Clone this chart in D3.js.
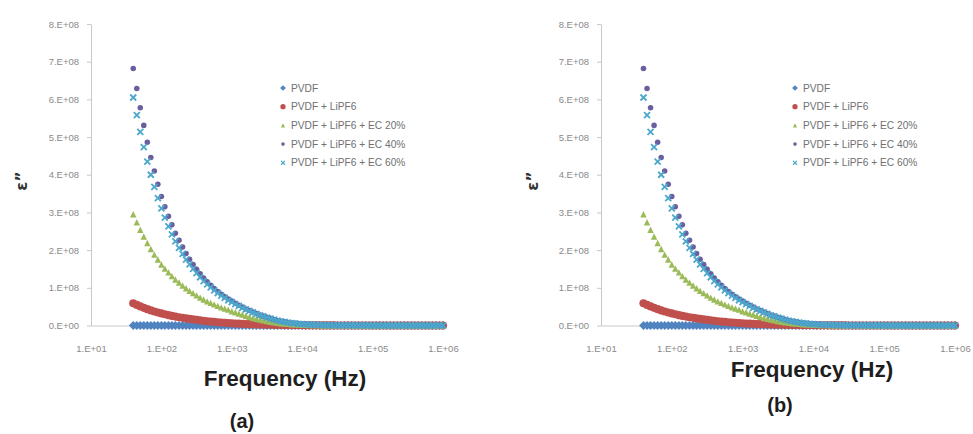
<!DOCTYPE html>
<html>
    <head>
        <script src="https://d3js.org/d3.v7.min.js"></script>
        <style>
            body { margin: 0; background: #fff; }
            .tick text { font: 9.5px "Liberation Sans", Arial, sans-serif; fill: #8a8a8a; }
            .legend text { font: 10.2px "Liberation Sans", Arial, sans-serif; fill: #707070; }
            .xtitle { font: bold 22.5px "Liberation Sans", Arial, sans-serif; fill: #1e1e1e; text-anchor: middle; }
            .panel { font: bold 20px "Liberation Sans", Arial, sans-serif; fill: #1e1e1e; text-anchor: middle; }
            .ytitle { font: bold 16px "DejaVu Sans", sans-serif; fill: #333; text-anchor: middle; }
        </style>
    </head>
    <body>
        <script>
            // frequencies (Hz), 20 points per decade from ~40 Hz to 1 MHz
            var freqs = [
                39.8, 44.7, 50.1, 56.2, 63.1, 70.8, 79.4, 89.1,
                100, 112, 126, 141, 158, 178, 200, 224, 251, 282, 316, 355, 398, 447, 501, 562, 631, 708, 794, 891,
                1000, 1122, 1259, 1413, 1585, 1778, 1995, 2239, 2512, 2818, 3162, 3548, 3981, 4467, 5012, 5623, 6310, 7079, 7943, 8913,
                1e4, 11220, 12589, 14125, 15849, 17783, 19953, 22387, 25119, 28184, 31623, 35481, 39811, 44668, 50119, 56234, 63096, 70795, 79433, 89125,
                1e5, 112202, 125893, 141254, 158489, 177828, 199526, 223872, 251189, 281838, 316228, 354813, 398107, 446684, 501187, 562341, 630957, 707946, 794328, 891251,
                1e6
            ];

            // epsilon'' values, in units of 1e8
            var pvdf = [
                0, 0, 0, 0, 0, 0, 0, 0,
                0, 0, 0, 0, 0, 0, 0, 0, 0, 0, 0, 0, 0, 0, 0, 0, 0, 0, 0, 0,
                0, 0, 0, 0, 0, 0, 0, 0, 0, 0, 0, 0, 0, 0, 0, 0, 0, 0, 0, 0,
                0, 0, 0, 0, 0, 0, 0, 0, 0, 0, 0, 0, 0, 0, 0, 0, 0, 0, 0, 0,
                0, 0, 0, 0, 0, 0, 0, 0, 0, 0, 0, 0, 0, 0, 0, 0, 0, 0, 0, 0,
                0
            ];
            var lipf6 = [
                0.59, 0.546, 0.506, 0.468, 0.433, 0.40, 0.372, 0.345,
                0.32, 0.297, 0.275, 0.255, 0.236, 0.219, 0.203, 0.188, 0.174, 0.162, 0.150, 0.137, 0.125, 0.114, 0.104, 0.095, 0.087, 0.079, 0.072, 0.066,
                0.060, 0.054, 0.049, 0.044, 0.040, 0.036, 0.032, 0.029, 0.026, 0.023, 0.021, 0.019, 0.017, 0.015, 0.013, 0.011, 0.010, 0.009, 0.008, 0.007,
                0.006, 0.005, 0.005, 0.004, 0.004, 0.003, 0.003, 0.002, 0.002, 0.002, 0.001, 0.001, 0.001, 0.001, 0, 0, 0, 0, 0, 0,
                0, 0, 0, 0, 0, 0, 0, 0, 0, 0, 0, 0, 0, 0, 0, 0, 0, 0, 0, 0,
                0
            ];
            var ec20 = [
                2.95, 2.74, 2.54, 2.36, 2.19, 2.03, 1.88, 1.75,
                1.62, 1.51, 1.41, 1.31, 1.22, 1.14, 1.06, 0.99, 0.92, 0.86, 0.80, 0.74, 0.69, 0.64, 0.60, 0.56, 0.52, 0.48, 0.45, 0.42,
                0.38, 0.35, 0.32, 0.29, 0.26, 0.23, 0.20, 0.18, 0.16, 0.14, 0.12, 0.10, 0.085, 0.072, 0.060, 0.050, 0.042, 0.035, 0.029, 0.024,
                0.020, 0.016, 0.013, 0.011, 0.009, 0.007, 0.006, 0.005, 0.004, 0.003, 0.003, 0.002, 0.002, 0.001, 0.001, 0.001, 0.001, 0, 0, 0,
                0, 0, 0, 0, 0, 0, 0, 0, 0, 0, 0, 0, 0, 0, 0, 0, 0, 0, 0, 0,
                0
            ];
            var ec40 = [
                6.82, 6.29, 5.78, 5.31, 4.86, 4.46, 4.10, 3.75,
                3.42, 3.15, 2.90, 2.67, 2.45, 2.26, 2.08, 1.91, 1.76, 1.62, 1.49, 1.37, 1.26, 1.16, 1.07, 0.98, 0.90, 0.83, 0.76, 0.70,
                0.65, 0.59, 0.54, 0.49, 0.44, 0.40, 0.36, 0.32, 0.28, 0.25, 0.22, 0.19, 0.16, 0.135, 0.115, 0.097, 0.082, 0.069, 0.058, 0.048,
                0.040, 0.033, 0.027, 0.022, 0.018, 0.015, 0.012, 0.010, 0.008, 0.006, 0.005, 0.004, 0.003, 0.003, 0.002, 0.002, 0.001, 0.001, 0.001, 0.001,
                0, 0, 0, 0, 0, 0, 0, 0, 0, 0, 0, 0, 0, 0, 0, 0, 0, 0, 0, 0,
                0
            ];
            var ec60 = [
                6.05, 5.58, 5.14, 4.73, 4.35, 4.00, 3.68, 3.38,
                3.11, 2.86, 2.63, 2.42, 2.23, 2.06, 1.90, 1.75, 1.62, 1.50, 1.39, 1.28, 1.18, 1.09, 1.01, 0.93, 0.86, 0.79, 0.73, 0.67,
                0.62, 0.57, 0.52, 0.47, 0.43, 0.39, 0.35, 0.31, 0.27, 0.24, 0.21, 0.18, 0.155, 0.13, 0.11, 0.094, 0.079, 0.066, 0.055, 0.046,
                0.038, 0.031, 0.026, 0.021, 0.017, 0.014, 0.011, 0.009, 0.007, 0.006, 0.005, 0.004, 0.003, 0.002, 0.002, 0.002, 0.001, 0.001, 0.001, 0.001,
                0, 0, 0, 0, 0, 0, 0, 0, 0, 0, 0, 0, 0, 0, 0, 0, 0, 0, 0, 0,
                0
            ];

            var seriesNames = ["PVDF", "PVDF + LiPF6", "PVDF + LiPF6 + EC 20%", "PVDF + LiPF6 + EC 40%", "PVDF + LiPF6 + EC 60%"];
            var seriesValues = [pvdf, lipf6, ec20, ec40, ec60];
            var xTicks = [1e1, 1e2, 1e3, 1e4, 1e5, 1e6];
            var yTicks = [0, 1, 2, 3, 4, 5, 6, 7, 8];
            var UNIT = 1e8;

            var colors = ["#4F84C0", "#C0504D", "#9BBB59", "#6A5E9E", "#4BA8CC"];
            var shapes = ["diamond", "circle", "triangle", "dot", "x"];

            function markerPath(shape, big) {
                var k = big ? 1 : 0.65;
                if (shape == "diamond") { var r = 4.4 * k; return "M0," + (-r) + "L" + r + ",0L0," + r + "L" + (-r) + ",0Z"; }
                if (shape == "circle") return d3.symbol(d3.symbolCircle, 52 * k * k)();
                if (shape == "dot") return d3.symbol(d3.symbolCircle, 24 * k * k)();
                if (shape == "triangle") { var t = 3.2 * k; return "M0," + (-t) + "L" + t + "," + t + "L" + (-t) + "," + t + "Z"; }
                var h = 3 * k;
                return "M" + (-h) + "," + (-h) + "L" + h + "," + h + "M" + h + "," + (-h) + "L" + (-h) + "," + h;
            }

            var data = seriesNames.map(function(name, i) {
                return {
                    name: name,
                    color: colors[i],
                    shape: shapes[i],
                    points: freqs.map(function(f, j) { return { f: f, v: seriesValues[i][j] * UNIT }; })
                };
            });

            var svg = d3.select("body").append("svg")
                .attr("width", 973)
                .attr("height", 434);

            svg.append("rect").attr("width", 973).attr("height", 434).attr("fill", "#fff");

            var panels = [
                { x0: 91, x1: 443, top: 24, bottom: 325.5, yLab: 22, legX: 283, titleX: 285, titleY: 386, tag: "(a)", tagX: 242, tagY: 428 },
                { x0: 601, x1: 955, top: 24, bottom: 325.5, yLab: 533, legX: 795, titleX: 812, titleY: 377, tag: "(b)", tagX: 780, tagY: 412 }
            ];

            panels.forEach(function(p) {
                var x = d3.scaleLog().domain([10, 1e6]).range([p.x0, p.x1]);
                var y = d3.scaleLinear().domain([0, 8 * UNIT]).range([p.bottom, p.top]);
                var g = svg.append("g");

                var yAxis = g.append("g")
                    .attr("transform", "translate(" + p.x0 + ",0)")
                    .call(d3.axisLeft(y)
                        .tickValues(yTicks.map(function(t) { return t * UNIT; }))
                        .tickSize(4).tickSizeOuter(0).tickPadding(8)
                        .tickFormat(function(d) { return d == 0 ? "0.E+00" : (d / UNIT) + ".E+08"; }));
                yAxis.selectAll("path, line").attr("stroke", "#c8c8c8");

                var xAxis = g.append("g")
                    .attr("transform", "translate(0," + p.bottom + ")")
                    .call(d3.axisBottom(x)
                        .tickValues(xTicks)
                        .tickSize(0).tickPadding(20)
                        .tickFormat(function(d) { return "1.E+0" + Math.round(Math.log10(d)); }));
                xAxis.select("path").attr("stroke", "#c8c8c8");

                data.forEach(function(s) {
                    var isX = s.shape == "x";
                    g.append("g").selectAll("path")
                        .data(s.points)
                        .enter().append("path")
                        .attr("transform", function(d) { return "translate(" + x(d.f) + "," + y(d.v) + ")"; })
                        .attr("d", markerPath(s.shape, true))
                        .attr("fill", isX ? "none" : s.color)
                        .attr("stroke", isX ? s.color : "none")
                        .attr("stroke-width", 1.8);
                });

                var legend = g.append("g").attr("class", "legend");
                data.forEach(function(s, i) {
                    var ly = 88 + i * 18.7;
                    legend.append("path")
                        .attr("transform", "translate(" + p.legX + "," + ly + ")")
                        .attr("d", markerPath(s.shape, false))
                        .attr("fill", s.shape == "x" ? "none" : s.color)
                        .attr("stroke", s.shape == "x" ? s.color : "none")
                        .attr("stroke-width", 1.3);
                    legend.append("text")
                        .attr("x", p.legX + 8)
                        .attr("y", ly + 3.6)
                        .text(s.name);
                });

                g.append("text")
                    .attr("class", "ytitle")
                    .attr("transform", "translate(" + (p.yLab + 5) + ",181) rotate(-90)")
                    .text("ε\u201D");

                g.append("text")
                    .attr("class", "xtitle")
                    .attr("x", p.titleX).attr("y", p.titleY)
                    .text("Frequency (Hz)");

                g.append("text")
                    .attr("class", "panel")
                    .attr("x", p.tagX).attr("y", p.tagY)
                    .text(p.tag);
            });
        </script>
    </body>
</html>
